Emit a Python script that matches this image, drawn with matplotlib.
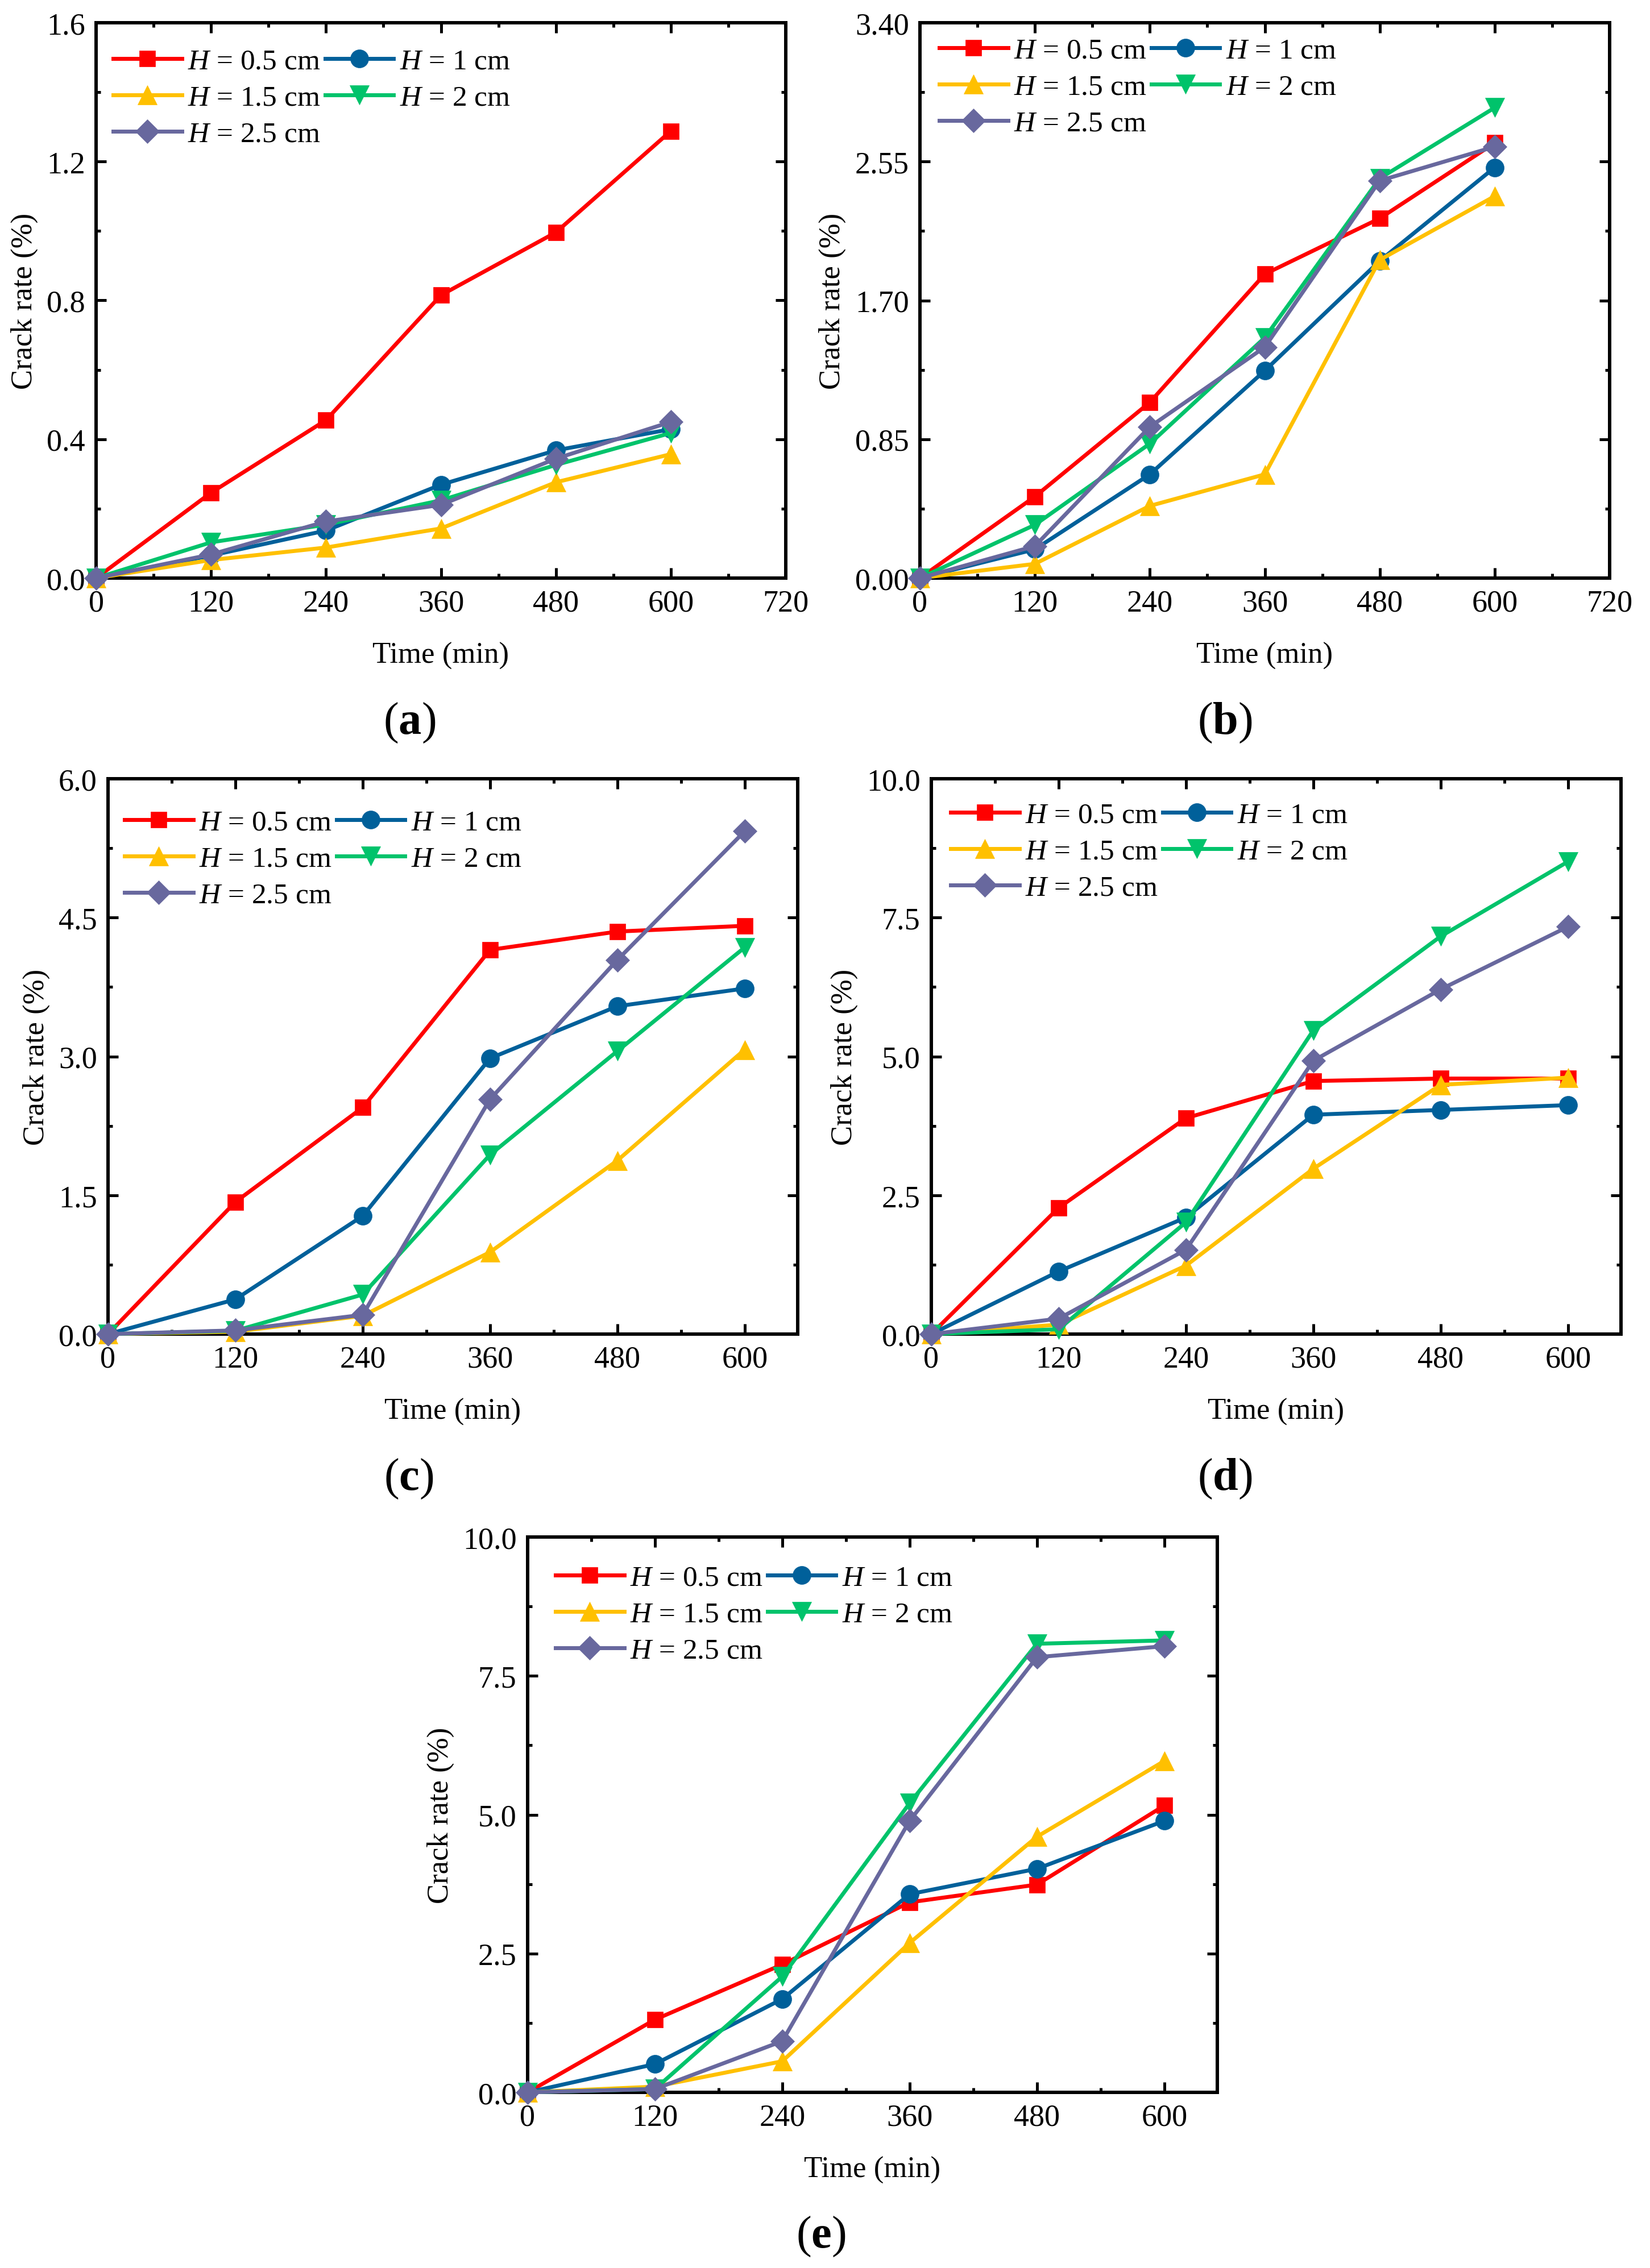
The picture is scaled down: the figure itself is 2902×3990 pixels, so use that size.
import matplotlib
matplotlib.use("Agg")
import matplotlib.pyplot as plt
from matplotlib.ticker import MultipleLocator, FormatStrFormatter

plt.rcParams['font.family'] = ['Liberation Serif', 'DejaVu Serif']
plt.rcParams['mathtext.fontset'] = 'custom'
plt.rcParams['mathtext.rm'] = 'Liberation Serif'
plt.rcParams['mathtext.it'] = 'Liberation Serif:italic'
plt.rcParams['mathtext.bf'] = 'Liberation Serif:bold'

# time axis (min)
time = [0, 120, 240, 360, 480, 600]
labels = [r'$\mathit{H}$ = 0.5 cm', r'$\mathit{H}$ = 1 cm', r'$\mathit{H}$ = 1.5 cm',
          r'$\mathit{H}$ = 2 cm', r'$\mathit{H}$ = 2.5 cm']
colors = ['#FF0000', '#00609A', '#FFC000', '#00C36B', '#68689E']
markers = ['s', 'o', '^', 'v', 'D']
msizes = [20, 23, 25, 25, 21]

# panel (a)
a_05 = [0, 0.246, 0.455, 0.815, 0.996, 1.288]
a_10 = [0, 0.065, 0.137, 0.269, 0.368, 0.429]
a_15 = [0, 0.052, 0.088, 0.143, 0.276, 0.357]
a_20 = [0, 0.103, 0.154, 0.224, 0.326, 0.418]
a_25 = [0, 0.068, 0.163, 0.211, 0.344, 0.450]
# panel (b)
b_05 = [0, 0.499, 1.076, 1.861, 2.202, 2.664]
b_10 = [0, 0.176, 0.635, 1.270, 1.942, 2.514]
b_15 = [0, 0.087, 0.442, 0.635, 1.948, 2.338]
b_20 = [0, 0.326, 0.823, 1.472, 2.447, 2.880]
b_25 = [0, 0.196, 0.926, 1.414, 2.433, 2.641]
# panel (c)
c_05 = [0, 1.427, 2.448, 4.151, 4.349, 4.411]
c_10 = [0, 0.375, 1.276, 2.979, 3.542, 3.734]
c_15 = [0, 0.026, 0.198, 0.885, 1.875, 3.073]
c_20 = [0, 0.036, 0.427, 1.937, 3.057, 4.177]
c_25 = [0, 0.040, 0.208, 2.536, 4.042, 5.432]
# panel (d)
d_05 = [0, 2.274, 3.889, 4.557, 4.601, 4.601]
d_10 = [0, 1.128, 2.100, 3.950, 4.036, 4.123]
d_15 = [0, 0.170, 1.233, 2.977, 4.488, 4.618]
d_20 = [0, 0.087, 2.014, 5.469, 7.161, 8.507]
d_25 = [0, 0.278, 1.519, 4.922, 6.207, 7.335]
# panel (e)
e_05 = [0, 1.310, 2.302, 3.422, 3.741, 5.164]
e_10 = [0, 0.509, 1.681, 3.569, 4.026, 4.888]
e_15 = [0, 0.103, 0.560, 2.690, 4.603, 5.966]
e_20 = [0, 0.060, 2.086, 5.207, 8.078, 8.138]
e_25 = [0, 0.060, 0.922, 4.888, 7.836, 8.034]

W, H = 2902, 3991
fig = plt.figure(figsize=(W / 100, H / 100), dpi=100)

FS = 39


def panel(left, top, series, ymax, ystep, yfmt, xmax, xticks_max, leg_off, tag, tag_xy):
    ax = fig.add_axes([left / W, (H - top - 977) / H, 1213 / W, 977 / H])
    lines = []
    for s, c, m, ms, lab in zip(series, colors, markers, msizes, labels):
        ln, = ax.plot(time, s, color=c, marker=m, lw=5, ms=ms, mec=c, mew=0.5,
                      label=lab, clip_on=False, zorder=3)
        lines.append(ln)
    ax.set_xlim(0, xmax)
    ax.set_ylim(0, ymax)
    ax.set_xticks(range(0, xticks_max + 1, 120))
    ax.xaxis.set_minor_locator(MultipleLocator(60))
    ax.yaxis.set_major_locator(MultipleLocator(ystep))
    ax.yaxis.set_minor_locator(MultipleLocator(ystep / 2))
    ax.yaxis.set_major_formatter(FormatStrFormatter(yfmt))
    ax.tick_params(which='both', direction='in', top=True, right=True, width=3.6,
                   labelsize=FS, pad=14)
    ax.tick_params(which='major', length=13)
    ax.tick_params(which='minor', length=6)
    for sp in ax.spines.values():
        sp.set_linewidth(4.3)
    ax.set_xlabel('Time (min)', fontsize=38, labelpad=30)
    ax.set_ylabel('Crack rate (%)', fontsize=38, labelpad=11)
    # row-major legend order: 0.5, 1 / 1.5, 2 / 2.5
    order = [0, 2, 4, 1, 3]
    dx, dy = leg_off
    ax.legend([lines[i] for i in order], [labels[i] for i in order],
              loc='upper left', bbox_to_anchor=(dx / 1213, 1 - dy / 977), ncol=2,
              frameon=False, fontsize=37, handlelength=2.35, handletextpad=0.2,
              columnspacing=0.16, labelspacing=0.33, borderpad=0, borderaxespad=0,
              numpoints=1)
    fig.text(tag_xy[0] / W, 1 - tag_xy[1] / H, tag, fontsize=58,
             ha='center', va='center')
    return ax


panel(169, 41, [a_05, a_10, a_15, a_20, a_25], 1.6, 0.4, '%.1f', 720, 720,
      (30, 45), r'($\mathbf{a}$)', (720, 1272))
panel(1618, 41, [b_05, b_10, b_15, b_20, b_25], 3.4, 0.85, '%.2f', 720, 720,
      (34, 26), r'($\mathbf{b}$)', (2154, 1272))
panel(190, 1371, [c_05, c_10, c_15, c_20, c_25], 6.0, 1.5, '%.1f', 650, 600,
      (29, 54), r'($\mathbf{c}$)', (719, 2602))
panel(1638, 1371, [d_05, d_10, d_15, d_20, d_25], 10.0, 2.5, '%.1f', 650, 600,
      (34, 41), r'($\mathbf{d}$)', (2154, 2602))
panel(928, 2705, [e_05, e_10, e_15, e_20, e_25], 10.0, 2.5, '%.1f', 650, 600,
      (49, 49), r'($\mathbf{e}$)', (1444, 3935))

fig.savefig('out.png', dpi=100)
